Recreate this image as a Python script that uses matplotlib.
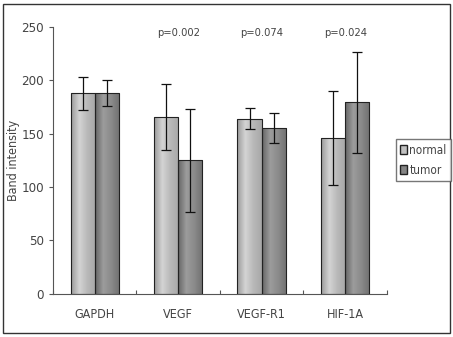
import numpy as np
import matplotlib
matplotlib.use("Agg")
import matplotlib.pyplot as plt
from matplotlib.colors import LinearSegmentedColormap
from matplotlib.patches import Rectangle, Patch

plt.rcParams['font.family'] = ['DejaVu Sans']
plt.rcParams['font.stretch'] = 'condensed'

genes = ["GAPDH", "VEGF", "VEGF-R1", "HIF-1A"]
normal = [188, 166, 164, 146]
normal_hi = [203, 197, 174, 190]
normal_lo = [172, 135, 154, 102]
tumor = [188, 125, 155, 180]
tumor_hi = [200, 173, 169, 227]
tumor_lo = [176, 77, 141, 132]
pvals = ["", "p=0.002", "p=0.074", "p=0.024"]

fig = plt.figure(figsize=(4.53, 3.37), dpi=100)
ax = fig.add_axes([0.117, 0.128, 0.737, 0.792])

x = np.arange(len(genes))
w = 0.29
txt = "#444444"

cm_n = LinearSegmentedColormap.from_list("n", ["#9a9a9a", "#d4d4d4", "#b8b8b8", "#a8a8a8"])
cm_t = LinearSegmentedColormap.from_list("t", ["#666666", "#9c9c9c", "#8a8a8a", "#707070"])
grad = np.linspace(0, 1, 64).reshape(1, -1)

def shaded(xs, vals, cmap, label):
    bars = ax.bar(xs, vals, w, color="none", edgecolor="#222222", linewidth=0.8,
                  label=label, zorder=3)
    for b in bars:
        im = ax.imshow(grad, cmap=cmap, aspect="auto", zorder=2,
                       extent=[b.get_x(), b.get_x() + b.get_width(), 0, b.get_height()])
        im.set_clip_path(b)
    return bars

shaded(x - w / 2, normal, cm_n, "normal")
shaded(x + w / 2, tumor, cm_t, "tumor")

ax.errorbar(x - w / 2, normal,
            yerr=[np.subtract(normal, normal_lo), np.subtract(normal_hi, normal)],
            fmt="none", ecolor="#111111", elinewidth=0.9, capsize=3.5, capthick=0.9, zorder=4)
ax.errorbar(x + w / 2, tumor,
            yerr=[np.subtract(tumor, tumor_lo), np.subtract(tumor_hi, tumor)],
            fmt="none", ecolor="#111111", elinewidth=0.9, capsize=3.5, capthick=0.9, zorder=4)

for i, p in enumerate(pvals):
    if p:
        ax.text(x[i], 244, p, ha="center", va="center", fontsize=8, color=txt)

ax.set_xlim(-0.5, len(genes) - 0.5)
ax.set_ylim(0, 250)
ax.set_yticks(np.arange(0, 251, 50))
ax.set_xticks(np.arange(-0.5, len(genes), 1), minor=False)
ax.set_xticklabels([])
ax.set_xticks(x, minor=True)
ax.set_xticklabels(genes, minor=True)
ax.tick_params(axis="x", which="minor", length=0, pad=10, labelsize=9, labelcolor=txt)
ax.tick_params(axis="x", which="major", direction="in", length=3, color="#555555")
ax.tick_params(axis="y", direction="out", length=3, labelsize=9.5, labelcolor=txt, color="#555555")
ax.spines["top"].set_visible(False)
ax.spines["right"].set_visible(False)
ax.spines["left"].set_color("#555555")
ax.spines["bottom"].set_color("#555555")
ax.set_ylabel("Band intensity", fontsize=9, color=txt)
ax.yaxis.set_label_coords(-0.1, 0.5)

hs = [Patch(facecolor="#c0c0c0", edgecolor="#222222"), Patch(facecolor="#858585", edgecolor="#222222")]
leg = fig.legend(hs, ["normal", "tumor"], loc="center left", bbox_to_anchor=(0.874, 0.525),
                 fontsize=8.5, frameon=True, fancybox=False, edgecolor="#555555",
                 handlelength=0.55, handleheight=0.75, handletextpad=0.25, borderpad=0.35,
                 labelspacing=0.6, borderaxespad=0)
for t in leg.get_texts():
    t.set_color(txt)

fig.patches.append(Rectangle((0.007, 0.012), 0.986, 0.976, transform=fig.transFigure,
                             fill=False, edgecolor="#333333", linewidth=1.0))

fig.savefig("out.png", dpi=100)
